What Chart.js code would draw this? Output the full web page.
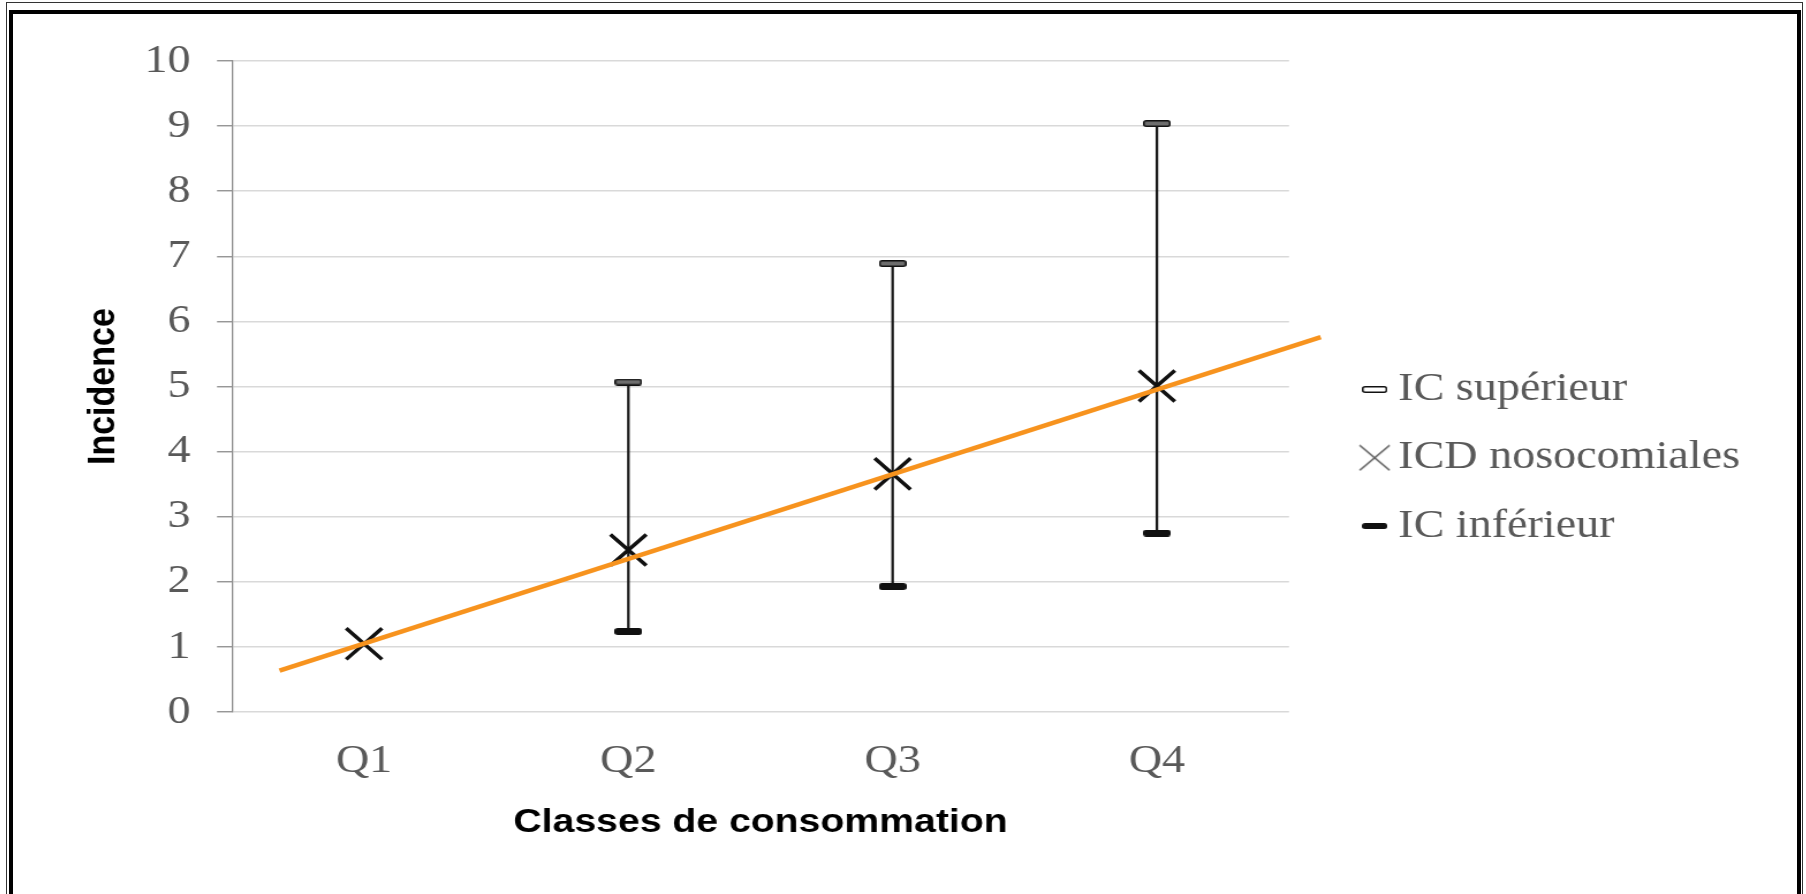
<!DOCTYPE html>
<html>
<head>
<meta charset="utf-8">
<script src="https://cdn.jsdelivr.net/npm/chart.js@4"></script>
<style>
  body { margin: 0; background: #fff; width: 1806px; height: 894px; overflow: hidden; position: relative; }
  .cadre1 { position: absolute; left: 6px; top: 2px; width: 1797px; height: 1000px; border: 1px solid #333; box-sizing: border-box; }
  .cadre2 { position: absolute; left: 9px; top: 10px; width: 1792px; height: 1000px; border: 4px solid #000; box-sizing: border-box; }
  #graphique { position: absolute; left: 14px; top: 14px; transform: scaleX(1.152); transform-origin: 0 0; }
</style>
</head>
<body>
<div class="cadre1"></div>
<div class="cadre2"></div>
<canvas id="graphique" width="1547" height="880"></canvas>
<script>
// Données
let classes = ["Q1", "Q2", "Q3", "Q4"];
let icdNosocomiales = [1.05, 2.49, 3.66, 5.01];
let icSuperieur = [null, 5.07, 6.89, 9.04];
let icInferieur = [null, 1.24, 1.93, 2.75];
// extrémités de la courbe de tendance (position sur l'axe des classes, incidence)
let tendanceX = [0.68, 4.62];
let tendanceY = [0.64, 5.76];
let graduationsY = [0, 1, 2, 3, 4, 5, 6, 7, 8, 9, 10];

let policeSerif = "'Liberation Serif', 'Times New Roman', serif";

// petits marqueurs dessinés sur un canvas (tirets des IC et croix de la légende)
function tiret(w, h, fond, trait) {
  let c = document.createElement("canvas");
  c.width = w; c.height = h;
  let ctx = c.getContext("2d");
  ctx.beginPath();
  ctx.roundRect(0.75, 0.75, w - 1.5, h - 1.5, 2);
  ctx.fillStyle = fond;
  ctx.fill();
  ctx.lineWidth = 1.5;
  ctx.strokeStyle = trait;
  ctx.stroke();
  return c;
}
function croix(w, h, couleur) {
  let c = document.createElement("canvas");
  c.width = w; c.height = h;
  let ctx = c.getContext("2d");
  ctx.strokeStyle = couleur;
  ctx.lineWidth = 1.6;
  ctx.beginPath();
  ctx.moveTo(1, 1); ctx.lineTo(w - 1, h - 1);
  ctx.moveTo(w - 1, 1); ctx.lineTo(1, h - 1);
  ctx.stroke();
  return c;
}

let capSup = tiret(24, 7, "#6e6e6e", "#111");
let capInf = tiret(24, 7, "#111", "#111");
let legSup = tiret(22, 7, "#fff", "#111");
let legInf = tiret(22, 6, "#111", "#111");
let legCroix = croix(28, 27, "#595959");

function points(valeurs) {
  return valeurs.map((v, i) => ({ x: i + 1, y: v }));
}

let barres = classes
  .map((c, i) => icInferieur[i] == null ? null : { x: i + 1, y: [icInferieur[i], icSuperieur[i]] })
  .filter(Boolean);

let tendance = tendanceX.map((x, i) => ({ x: x, y: tendanceY[i] }));

// largeur du plus long libellé de légende, pour placer la légende
let mesure = document.createElement("canvas").getContext("2d");
mesure.font = "40px " + policeSerif;
let largeurTexte = mesure.measureText("ICD nosocomiales").width;
let legendeGauche = 1152.3;
let legendeLargeur = 28.3 + 1 + 20 + largeurTexte + 10;

Chart.defaults.font.family = policeSerif;

let ctx = document.getElementById("graphique").getContext("2d");
let monGraphique = new Chart(ctx, {
  type: "scatter",
  data: {
    datasets: [
      {
        label: "ICD nosocomiales",
        data: points(icdNosocomiales),
        pointStyle: "crossRot",
        pointRadius: 22,
        pointBorderWidth: 3.5,
        borderColor: "#111",
        backgroundColor: "#111",
        order: 1
      },
      {
        label: "IC supérieur",
        data: points(icSuperieur),
        pointStyle: capSup,
        pointRadius: 5,
        order: 2
      },
      {
        label: "IC inférieur",
        data: points(icInferieur),
        pointStyle: capInf,
        pointRadius: 5,
        order: 2
      },
      {
        type: "line",
        label: "Tendance",
        data: tendance,
        borderColor: "#F7931E",
        borderWidth: 4.5,
        pointRadius: 0,
        clip: false,
        order: 0
      },
      {
        type: "bar",
        label: "Intervalle",
        data: barres,
        backgroundColor: "#1a1a1a",
        borderWidth: 0,
        barThickness: 1.6,
        order: 3
      }
    ]
  },
  options: {
    responsive: false,
    animation: false,
    layout: { padding: { left: 0, top: 43.3, right: 1547 - legendeGauche - legendeLargeur, bottom: 35.7 } },
    plugins: {
      tooltip: { enabled: false },
      legend: {
        position: "right",
        maxWidth: 1000,
        labels: {
          usePointStyle: true,
          boxWidth: 1,
          padding: 28.3,
          textAlign: "left",
          color: "#595959",
          font: { size: 40 },
          generateLabels: () => [
            { text: "IC supérieur", pointStyle: legSup, datasetIndex: 1, lineWidth: 0, hidden: false, textAlign: "left", fontColor: "#595959" },
            { text: "ICD nosocomiales", pointStyle: legCroix, datasetIndex: 0, lineWidth: 0, hidden: false, textAlign: "left", fontColor: "#595959" },
            { text: "IC inférieur", pointStyle: legInf, datasetIndex: 2, lineWidth: 0, hidden: false, textAlign: "left", fontColor: "#595959" }
          ]
        }
      }
    },
    scales: {
      x: {
        type: "linear",
        min: 0.5,
        max: 4.5,
        offset: false,
        afterBuildTicks: s => { s.ticks = classes.map((c, i) => ({ value: i + 1 })); },
        afterFit: s => { s.height = 146.1; },
        grid: { display: false, drawTicks: false, offset: false },
        border: { display: false },
        ticks: {
          callback: v => classes[v - 1],
          padding: 25.3,
          maxRotation: 0,
          autoSkip: false,
          color: "#595959",
          font: { size: 40 }
        },
        title: {
          display: true,
          text: "Classes de consommation",
          color: "#000",
          font: { family: "'Liberation Sans', Arial, sans-serif", size: 34, weight: "bold" },
          padding: { top: 0, bottom: 14.9 }
        }
      },
      y: {
        min: 0,
        max: 10,
        afterBuildTicks: s => { s.ticks = graduationsY.map(v => ({ value: v })); },
        afterFit: s => { s.width = 189.2; },
        grid: { color: "#d9d9d9", lineWidth: 1.5, tickColor: "#8c8c8c", tickLength: 13, tickWidth: 1.3 },
        border: { color: "#8c8c8c", width: 1.3 },
        ticks: { padding: 23, color: "#595959", font: { size: 40 } },
        title: {
          display: true,
          text: "Incidence",
          color: "#000",
          font: { family: "'Liberation Sans', Arial, sans-serif", size: 34, weight: "bold" },
          padding: { top: 56.9, bottom: 0 }
        }
      },
      // axe vide qui laisse l'espace entre la zone de tracé et la légende
      yVide: {
        type: "linear",
        position: "right",
        afterFit: s => { s.width = legendeGauche - 1106.8; },
        grid: { display: false, drawTicks: false },
        border: { display: false },
        ticks: { display: false }
      }
    }
  }
});
</script>
</body>
</html>
